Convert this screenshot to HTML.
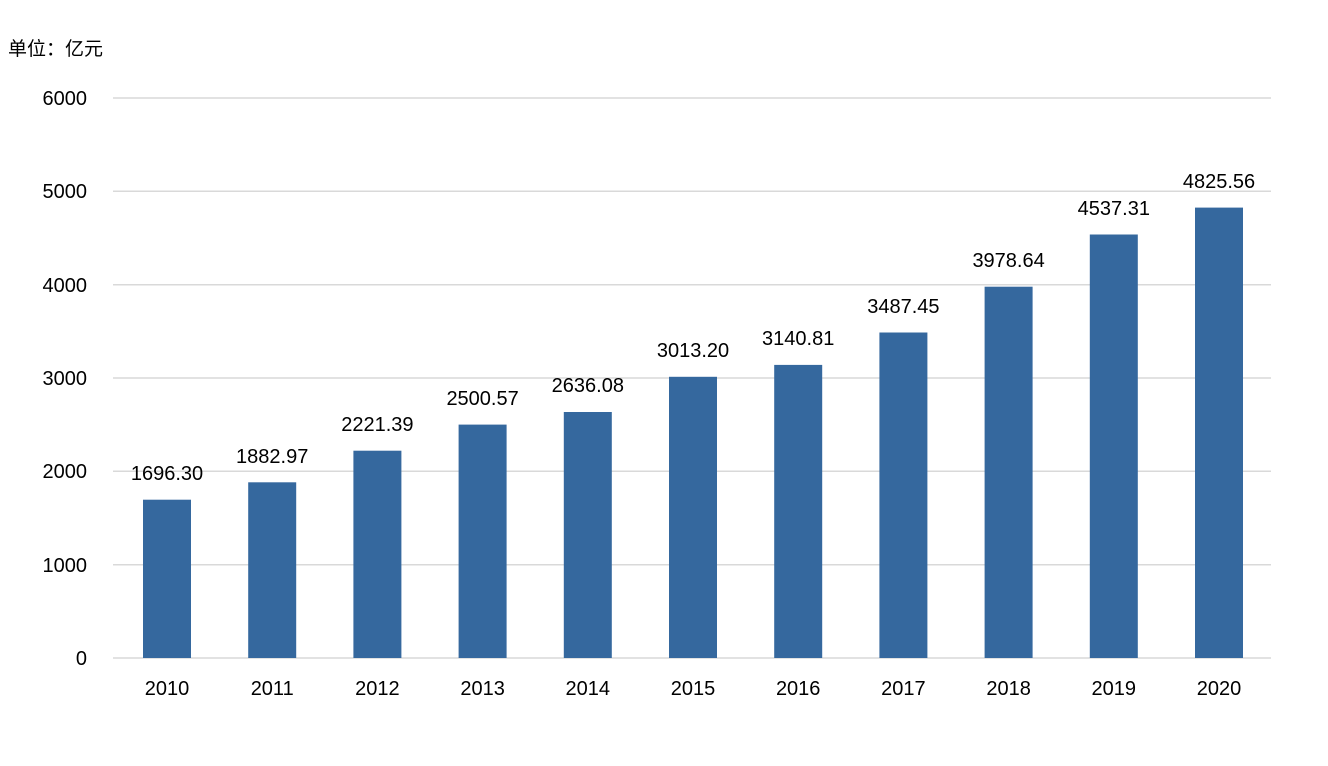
<!DOCTYPE html>
<html><head><meta charset="utf-8"><style>
html,body{margin:0;padding:0;background:#fff;}
svg text{font-family:"Liberation Sans","Noto Sans CJK SC",sans-serif;font-size:20px;fill:#000;}
</style></head><body>
<svg width="1328" height="761" viewBox="0 0 1328 761" xmlns="http://www.w3.org/2000/svg">
<rect width="1328" height="761" fill="#fff"/>
<text x="8" y="55" style="font-size:19px">单位：亿元</text>
<g stroke="#d9d9d9" stroke-width="1.5">
<line x1="113" x2="1271" y1="98" y2="98"/>
<line x1="113" x2="1271" y1="191.3" y2="191.3"/>
<line x1="113" x2="1271" y1="284.7" y2="284.7"/>
<line x1="113" x2="1271" y1="378" y2="378"/>
<line x1="113" x2="1271" y1="471.3" y2="471.3"/>
<line x1="113" x2="1271" y1="564.7" y2="564.7"/>
<line x1="113" x2="1271" y1="658" y2="658"/>
</g>
<g text-anchor="end">
<text x="87" y="105">6000</text>
<text x="87" y="198">5000</text>
<text x="87" y="292">4000</text>
<text x="87" y="385">3000</text>
<text x="87" y="478">2000</text>
<text x="87" y="572">1000</text>
<text x="87" y="665">0</text>
</g>
<g fill="#35689e">
<rect x="143" y="499.7" width="48" height="158.3"/>
<rect x="248.2" y="482.3" width="48" height="175.7"/>
<rect x="353.4" y="450.7" width="48" height="207.3"/>
<rect x="458.6" y="424.6" width="48" height="233.4"/>
<rect x="563.8" y="412" width="48" height="246"/>
<rect x="669" y="376.8" width="48" height="281.2"/>
<rect x="774.2" y="364.9" width="48" height="293.1"/>
<rect x="879.4" y="332.5" width="48" height="325.5"/>
<rect x="984.6" y="286.7" width="48" height="371.3"/>
<rect x="1089.8" y="234.5" width="48" height="423.5"/>
<rect x="1195" y="207.6" width="48" height="450.4"/>
</g>
<g text-anchor="middle">
<text x="167" y="480">1696.30</text>
<text x="272.2" y="463">1882.97</text>
<text x="377.4" y="431">2221.39</text>
<text x="482.6" y="405">2500.57</text>
<text x="587.8" y="392">2636.08</text>
<text x="693" y="357">3013.20</text>
<text x="798.2" y="345">3140.81</text>
<text x="903.4" y="313">3487.45</text>
<text x="1008.6" y="267">3978.64</text>
<text x="1113.8" y="215">4537.31</text>
<text x="1219" y="188">4825.56</text>
<text x="167" y="695">2010</text>
<text x="272.2" y="695">2011</text>
<text x="377.4" y="695">2012</text>
<text x="482.6" y="695">2013</text>
<text x="587.8" y="695">2014</text>
<text x="693" y="695">2015</text>
<text x="798.2" y="695">2016</text>
<text x="903.4" y="695">2017</text>
<text x="1008.6" y="695">2018</text>
<text x="1113.8" y="695">2019</text>
<text x="1219" y="695">2020</text>
</g>
</svg>
</body></html>
